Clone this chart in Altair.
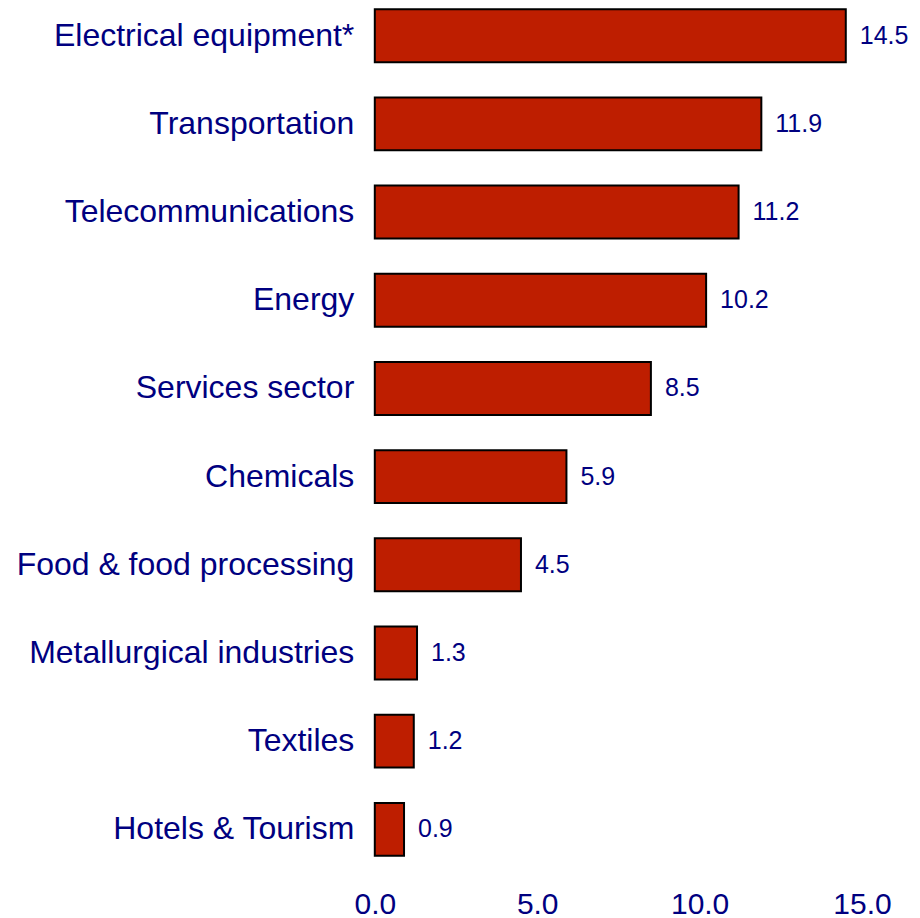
import altair as alt
import pandas as pd

categories = [
    "Electrical equipment*",
    "Transportation",
    "Telecommunications",
    "Energy",
    "Services sector",
    "Chemicals",
    "Food & food processing",
    "Metallurgical industries",
    "Textiles",
    "Hotels & Tourism",
]
values = [14.5, 11.9, 11.2, 10.2, 8.5, 5.9, 4.5, 1.3, 1.2, 0.9]
x_ticks = [0, 5, 10, 15]

df = pd.DataFrame({"category": categories, "value": values})
df["label"] = [f"{v:.1f}" for v in values]

navy = "#000080"
font = "Liberation Sans"

y_enc = alt.Y(
    "category:N",
    sort=categories,
    scale=alt.Scale(paddingInner=0.4, paddingOuter=0),
    axis=alt.Axis(
        title=None, domain=False, ticks=False, labelFontSize=32,
        labelColor=navy, labelFont=font, labelPadding=21, labelLimit=500,
    ),
)

bars = alt.Chart(df).mark_bar(
    color="#BE1E00", stroke="black", strokeWidth=2
).encode(
    y=y_enc,
    x=alt.X(
        "value:Q",
        scale=alt.Scale(domain=[0, 15], nice=False),
        axis=alt.Axis(
            title=None, values=x_ticks, format=".1f", domain=False, ticks=False,
            grid=False, labelFontSize=30, labelColor=navy, labelFont=font,
            labelPadding=34, labelFlush=False,
        ),
    ),
)

text = alt.Chart(df).mark_text(
    align="left", baseline="middle", dx=14, fontSize=25, color=navy, font=font
).encode(
    y=alt.Y("category:N", sort=categories),
    x="value:Q",
    text="label:N",
)

chart = (bars + text).properties(
    width=487.5,
    height=847,
    autosize=alt.AutoSizeParams(type="none"),
    padding={"left": 367, "top": 1, "right": 50, "bottom": 75},
).configure(background="white").configure_view(stroke=None, strokeWidth=0)

chart.save("out.html", embed_options={"renderer": "svg", "actions": False})
